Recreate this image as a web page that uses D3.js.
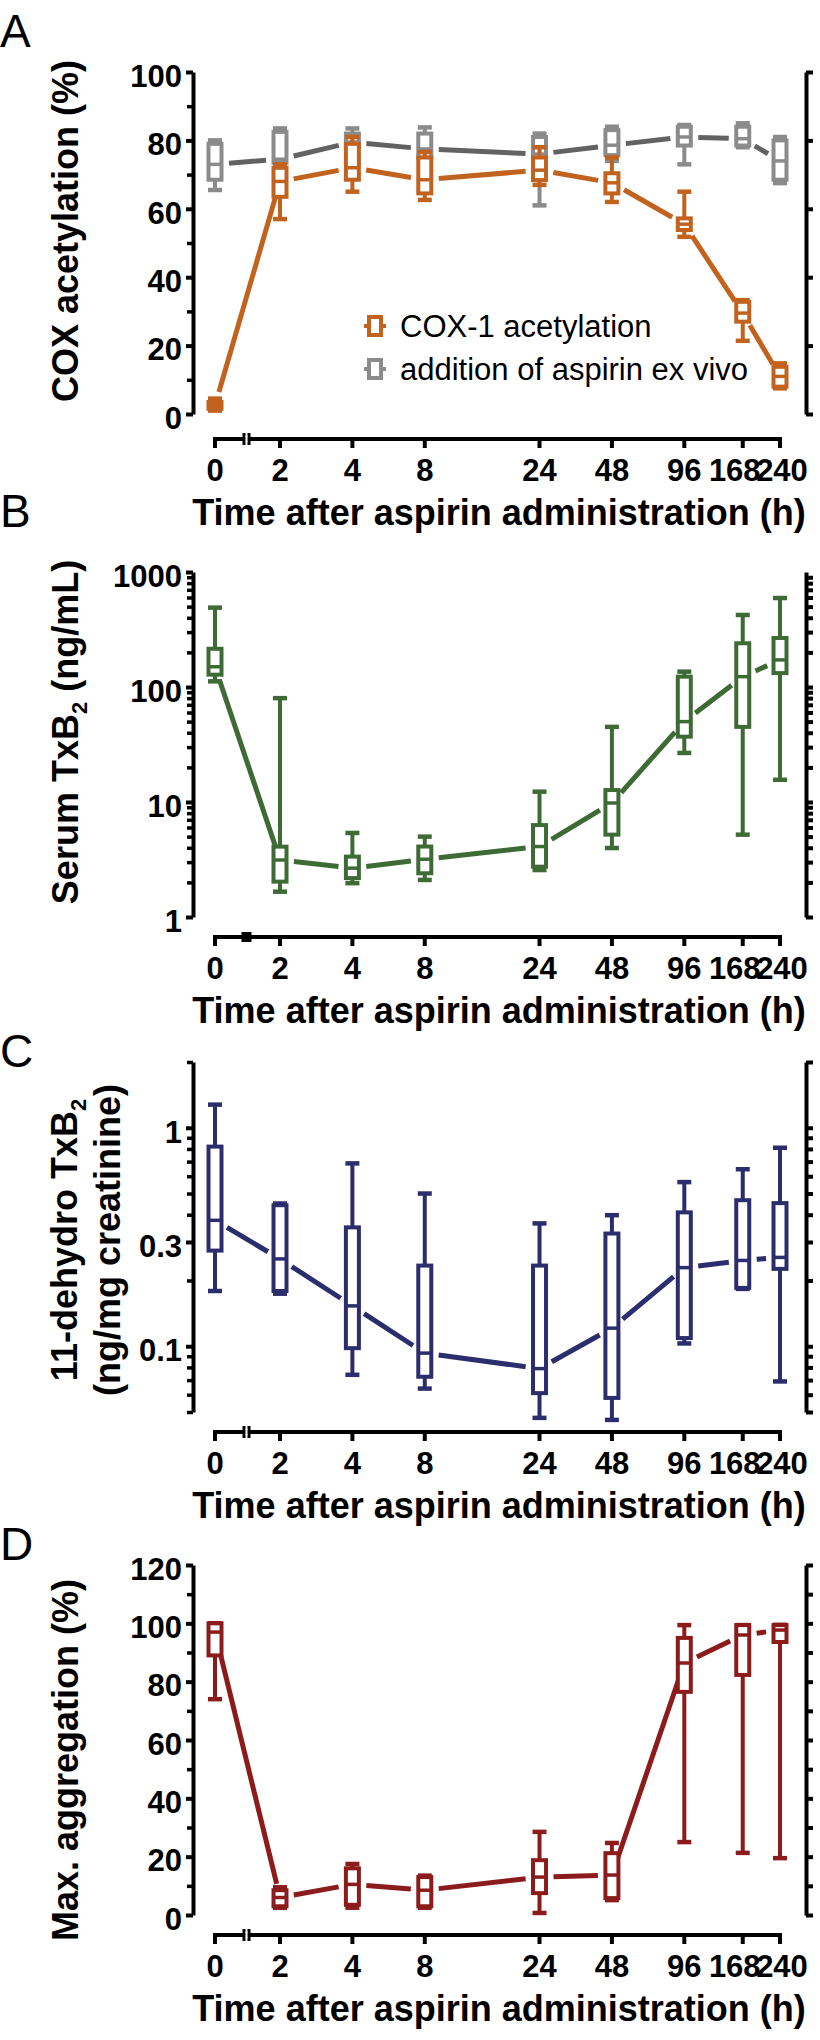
<!DOCTYPE html>
<html>
<head>
<meta charset="utf-8">
<script src="https://cdn.jsdelivr.net/npm/d3@7"></script>
<style>
  html, body { margin: 0; padding: 0; background: #fff; }
  svg { display: block; font-family: "Liberation Sans", Arial, Helvetica, sans-serif; }
</style>
</head>
<body>
<script>
// time points (h)
const times = [0, 2, 4, 8, 24, 48, 96, 168, 240];

// every entry: [min, q1, median, q3, max]
const coxAcetylation = [
  [1, 1.5, 2.5, 3.5, 4.5], [57, 63.5, 68, 72, 73], [65, 68.5, 72, 79, 81],
  [62.6, 64.5, 68.5, 75, 76.6], [67, 68.4, 71.3, 75, 78], [62, 64.5, 67.6, 70.4, 75],
  [51.8, 53.8, 55.5, 57.2, 65], [21.4, 27, 29.5, 32.8, 33.3], [7.5, 8, 11, 13.8, 14.8]
];
const exVivoAcetylation = [
  [65.5, 68.5, 73, 79, 80], [72, 73.5, 74.5, 82.5, 83.5], [77, 78, 79.5, 82, 83.5],
  [74, 75, 77.5, 82, 83.8], [61, 72, 76, 81, 82], [74, 75.7, 78.6, 83, 84],
  [73, 78.5, 81, 84, 84.5], [78, 78.5, 80.5, 84, 85], [67.5, 68.5, 74, 80, 81]
];
const serumTxB2 = [
  [112, 128, 150, 215, 490], [1.66, 2.03, 3.13, 4.09, 80], [1.97, 2.18, 2.66, 3.35, 5.38],
  [2.1, 2.4, 3.18, 4.1, 5.0], [2.56, 2.74, 4.1, 6.3, 12.3], [3.98, 5.2, 9.8, 12.7, 45],
  [26.7, 37, 50, 123, 136], [5.2, 45, 123, 240, 423], [15.6, 132, 172, 267, 594]
];
const dehydroTxB2 = [
  [0.179, 0.274, 0.377, 0.82, 1.276], [0.174, 0.179, 0.251, 0.442, 0.45], [0.074, 0.098, 0.153, 0.35, 0.687],
  [0.064, 0.0725, 0.093, 0.234, 0.5], [0.047, 0.061, 0.079, 0.234, 0.365], [0.046, 0.058, 0.121, 0.328, 0.398],
  [0.103, 0.109, 0.229, 0.41, 0.564], [0.183, 0.185, 0.247, 0.466, 0.646], [0.069, 0.226, 0.255, 0.452, 0.81]
];
const maxAggregation = [
  [74, 89, 97, 100, 100], [2.5, 3, 6, 8.5, 9.5], [2.5, 3.5, 10.5, 16, 17.5],
  [2.5, 3, 8.5, 13, 13.5], [0.7, 7.5, 13, 18.8, 28.5], [5.1, 5.8, 13.7, 21.2, 24.7],
  [25, 76.5, 86.4, 95, 99.4], [21.3, 82.3, 96, 99.4, 99.4], [19.5, 93.6, 97.7, 99.4, 99.5]
];

// axis ticks
const ticksA = [0, 20, 40, 60, 80, 100];
const minorA = [10, 30, 50, 70, 90];
const ticksB = [1, 10, 100, 1000];
const ticksC = [0.1, 0.3, 1];
const ticksD = [0, 20, 40, 60, 80, 100, 120];
const minorD = [10, 30, 50, 70, 90, 110];

const legendLabels = ['COX-1 acetylation', 'addition of aspirin ex vivo'];
const xTitle = 'Time after aspirin administration (h)';

const orange = '#c1631f';
const grayBox = '#8b8b8b';
const grayLine = '#626262';

const W = 820, H = 2040;
const svg = d3.select('body').append('svg').attr('width', W).attr('height', H);

// broken x axis: 0 sits left of the break, the rest is log2
const xLog = d3.scaleLog().base(2).domain([2, 240]).range([280, 780]);
const xZero = xLog(2) - 65;
const xPos = (t) => (t === 0 ? xZero : xLog(t));
const xLeft = 193;
const xRight = 806;

const logMinors = (lo, hi) => {
  const out = [];
  for (let dec = Math.pow(10, Math.floor(Math.log10(lo))); dec < hi; dec *= 10) {
    for (let k = 1; k < 10; k++) {
      const v = +(k * dec).toPrecision(3);
      if (v >= lo - 1e-9 && v <= hi + 1e-9) out.push(v);
    }
  }
  return out;
};

const panels = [
  {
    letter: 'A', letterY: 47, axisY: 439,
    y: d3.scaleLinear().domain([0, 100]).range([414, 72]),
    major: ticksA, minor: minorA, right: ticksA,
    fmt: d3.format('d'),
    label: [[{ t: 'COX acetylation (%)' }]], labelX: [78], labelY: 231,
    series: [
      { data: exVivoAcetylation, box: grayBox, line: grayLine },
      { data: coxAcetylation, box: orange, line: orange }
    ],
    legend: true
  },
  {
    letter: 'B', letterY: 527, axisY: 937, solidBreak: true,
    y: d3.scaleLog().domain([1, 1000]).range([917, 572]),
    major: ticksB, minor: logMinors(1, 1000).filter(v => !ticksB.includes(v)),
    right: logMinors(1, 1000),
    fmt: d3.format('d'),
    label: [[{ t: 'Serum TxB' }, { t: '2', sub: true }, { t: ' (ng/mL)' }]], labelX: [78], labelY: 732,
    series: [{ data: serumTxB2, box: '#3e6b35', line: '#3e6b35' }]
  },
  {
    letter: 'C', letterY: 1067, axisY: 1432,
    y: d3.scaleLog().domain([0.05, 2]).range([1412, 1062]),
    major: ticksC, minor: logMinors(0.05, 2).filter(v => !ticksC.includes(v)),
    right: logMinors(0.05, 2),
    fmt: (d) => String(d),
    label: [[{ t: '11-dehydro TxB' }, { t: '2', sub: true }], [{ t: '(ng/mg creatinine)' }]],
    labelX: [77, 120], labelY: 1240,
    series: [{ data: dehydroTxB2, box: '#2c2d6c', line: '#2c2d6c' }]
  },
  {
    letter: 'D', letterY: 1560, axisY: 1935,
    y: d3.scaleLinear().domain([0, 120]).range([1915, 1565]),
    major: ticksD, minor: minorD, right: ticksD.concat(minorD),
    fmt: d3.format('d'),
    label: [[{ t: 'Max. aggregation (%)' }]], labelX: [78], labelY: 1760,
    series: [{ data: maxAggregation, box: '#8c1c1c', line: '#8c1c1c' }]
  }
];

const boxW = 13;
const capW = 14;
const lineGap = 14; // connecting lines stop short of the boxes

const drawPanel = (g, p) => {
  const y = p.y;

  // panel letter
  g.append('text')
    .attr('x', 0).attr('y', p.letterY)
    .attr('font-size', 46)
    .text(p.letter);

  // left axis: labelled ticks, then minor ticks
  const left = g.append('g')
    .attr('transform', `translate(${xLeft},0)`)
    .call(d3.axisLeft(y).tickValues(p.major).tickSize(7).tickPadding(4).tickSizeOuter(0).tickFormat(p.fmt))
    .attr('font-size', 31).attr('font-weight', 'bold').attr('font-family', null);
  left.select('.domain').attr('stroke-width', 4);
  left.selectAll('.tick line').attr('stroke-width', 4);
  left.selectAll('.tick text').attr('dy', '0.46em').attr('fill', '#000');

  const leftMinor = g.append('g')
    .attr('transform', `translate(${xLeft},0)`)
    .call(d3.axisLeft(y).tickValues(p.minor).tickSize(6).tickSizeOuter(0).tickFormat(''));
  leftMinor.select('.domain').remove();
  leftMinor.selectAll('.tick line').attr('stroke-width', 3.5);

  // right axis without labels
  const right = g.append('g')
    .attr('transform', `translate(${xRight},0)`)
    .call(d3.axisRight(y).tickValues(p.right).tickSize(7).tickSizeOuter(0).tickFormat(''));
  right.select('.domain').attr('stroke-width', 4);
  right.selectAll('.tick line').attr('stroke-width', 4);

  // broken x axis
  const xa = g.append('g').attr('transform', `translate(0,${p.axisY})`);
  xa.append('line')
    .attr('x1', xPos(times[0]) - 2).attr('x2', xPos(times[times.length - 1]) + 2)
    .attr('stroke', '#000').attr('stroke-width', 4);
  xa.selectAll('.xtick').data(times).join('line')
    .attr('class', 'xtick')
    .attr('x1', xPos).attr('x2', xPos)
    .attr('y1', 0).attr('y2', 9)
    .attr('stroke', '#000').attr('stroke-width', 4);
  const bx = (xZero + xLog(2)) / 2 - 1;
  if (p.solidBreak) {
    xa.append('rect').attr('x', bx - 5).attr('y', -5).attr('width', 10).attr('height', 10).attr('fill', '#000');
  } else {
    xa.append('rect').attr('x', bx - 4).attr('y', -6).attr('width', 3).attr('height', 12).attr('fill', '#000');
    xa.append('rect').attr('x', bx + 1).attr('y', -6).attr('width', 3).attr('height', 12).attr('fill', '#000');
    xa.append('rect').attr('x', bx - 1).attr('y', -3).attr('width', 2).attr('height', 6).attr('fill', '#fff');
  }
  xa.selectAll('.xlab').data(times).join('text')
    .attr('class', 'xlab')
    .attr('x', xPos)
    .attr('dx', (d) => (d === 168 ? -8 : d === 240 ? 2 : 0))
    .attr('y', 42)
    .attr('text-anchor', 'middle')
    .attr('font-size', 31).attr('font-weight', 'bold')
    .text((d) => d);

  g.append('text')
    .attr('x', 499).attr('y', p.axisY + 86)
    .attr('text-anchor', 'middle')
    .attr('font-size', 36).attr('font-weight', 'bold')
    .text(xTitle);

  // y label(s), rotated
  p.label.forEach((line, i) => {
    const t = g.append('text')
      .attr('transform', `translate(${p.labelX[i]},${p.labelY}) rotate(-90)`)
      .attr('text-anchor', 'middle')
      .attr('font-size', 36).attr('font-weight', 'bold');
    let shifted = false;
    line.forEach((seg) => {
      const ts = t.append('tspan').text(seg.t);
      if (seg.sub) {
        ts.attr('font-size', 22).attr('dy', 9);
        shifted = true;
      } else if (shifted) {
        ts.attr('dy', -9);
        shifted = false;
      }
    });
  });

  // series: median segments (with gaps), then the boxes
  p.series.forEach((s) => {
    const rows = s.data.map((d, i) => ({ t: times[i], min: d[0], q1: d[1], med: d[2], q3: d[3], max: d[4] }));
    const segs = d3.pairs(rows).map(([a, b]) => {
      const x1 = xPos(a.t), y1 = y(a.med), x2 = xPos(b.t), y2 = y(b.med);
      const len = Math.hypot(x2 - x1, y2 - y1);
      const ux = (x2 - x1) / len, uy = (y2 - y1) / len;
      return { x1: x1 + ux * lineGap, y1: y1 + uy * lineGap, x2: x2 - ux * lineGap, y2: y2 - uy * lineGap };
    });
    g.selectAll(null).data(segs).join('line')
      .attr('x1', (d) => d.x1).attr('y1', (d) => d.y1)
      .attr('x2', (d) => d.x2).attr('y2', (d) => d.y2)
      .attr('stroke', s.line)
      .attr('stroke-width', 5);

    const bg = g.selectAll(null).data(rows).join('g')
      .attr('transform', (d) => `translate(${xPos(d.t)},0)`);
    bg.append('line')
      .attr('y1', (d) => y(d.min)).attr('y2', (d) => y(d.max))
      .attr('stroke', s.box).attr('stroke-width', 4);
    bg.append('line')
      .attr('x1', -capW / 2).attr('x2', capW / 2)
      .attr('y1', (d) => y(d.max)).attr('y2', (d) => y(d.max))
      .attr('stroke', s.box).attr('stroke-width', 4.5);
    bg.append('line')
      .attr('x1', -capW / 2).attr('x2', capW / 2)
      .attr('y1', (d) => y(d.min)).attr('y2', (d) => y(d.min))
      .attr('stroke', s.box).attr('stroke-width', 4.5);
    bg.append('rect')
      .attr('x', -boxW / 2).attr('width', boxW)
      .attr('y', (d) => y(d.q3))
      .attr('height', (d) => Math.max(0, y(d.q1) - y(d.q3)))
      .attr('fill', '#fff')
      .attr('stroke', s.box).attr('stroke-width', 4);
    bg.append('line')
      .attr('x1', -boxW / 2).attr('x2', boxW / 2)
      .attr('y1', (d) => y(d.med)).attr('y2', (d) => y(d.med))
      .attr('stroke', s.box).attr('stroke-width', 3.5);
  });

  if (p.legend) {
    const legendColors = [orange, grayBox];
    const lg = g.selectAll('.leg').data(legendLabels).join('g')
      .attr('class', 'leg')
      .attr('transform', (d, i) => `translate(375,${326 + i * 43})`);
    lg.append('line')
      .attr('x1', -11).attr('x2', 11)
      .attr('stroke', (d, i) => legendColors[i]).attr('stroke-width', 4);
    lg.append('rect')
      .attr('x', -6).attr('y', -9).attr('width', 12).attr('height', 18)
      .attr('fill', '#fff')
      .attr('stroke', (d, i) => legendColors[i]).attr('stroke-width', 4);
    lg.append('text')
      .attr('x', 25).attr('y', 11)
      .attr('font-size', 31)
      .text((d) => d);
  }
};

panels.forEach((p) => drawPanel(svg.append('g'), p));
</script>
</body>
</html>
